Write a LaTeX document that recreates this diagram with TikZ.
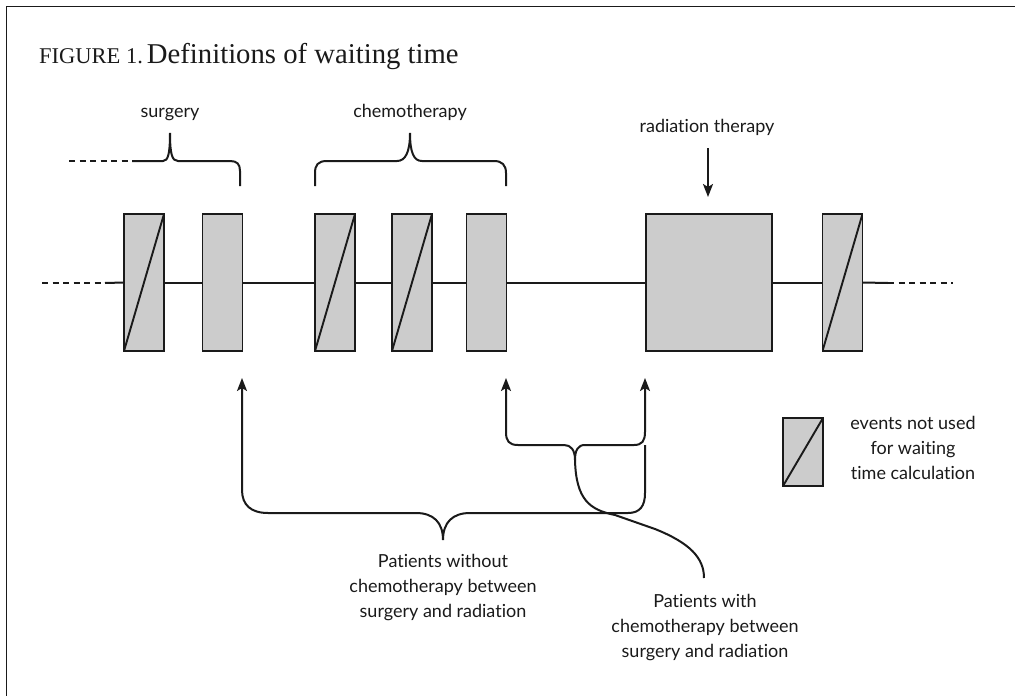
\documentclass[tikz,border=0pt]{standalone}
\usepackage{fontspec}
\newfontfamily\labfont{Lato}[Ligatures=NoCommon]
\newfontfamily\titlefont{Liberation Serif}
\usetikzlibrary{arrows.meta}
\definecolor{boxgray}{HTML}{CCCCCC}
\definecolor{ink}{HTML}{1A1A1A}
\begin{document}
\begin{tikzpicture}[x=1pt,y=-1pt,
  ev/.style={draw=ink, fill=boxgray, line width=1.9pt, minimum width=40pt, minimum height=137pt, inner sep=0pt, outer sep=0pt},
  unused/.style={ev, path picture={\draw[ink, line width=1.9pt] (path picture bounding box.south west) -- (path picture bounding box.north east);}},
  conn/.style={draw=ink, line width=2pt},
  dashline/.style={draw=ink, line width=2pt, dash pattern=on 6pt off 4.5pt},
  arr/.style={conn, -{Stealth[length=13pt,width=10pt,inset=3pt]}},
  darr/.style={conn, {Stealth[length=13pt,width=10pt,inset=3pt]}-{Stealth[length=13pt,width=10pt,inset=3pt]}},
  lab/.style={font=\labfont\fontsize{18}{25}\selectfont, text=ink, inner sep=0pt, align=center},
]
\useasboundingbox (0,0) rectangle (1015,696);
\fill[white] (0,0) rectangle (1015,696);
% frame
\draw[ink, line width=1pt] (6,696) -- (6,6) -- (1015,6);
% title
\node[anchor=base west, inner sep=0pt, text=ink, font=\titlefont] (title) at (39,63) {{\fontsize{22.5}{26}\selectfont FIGURE 1.}\hspace{4pt}{\fontsize{28.7}{32}\selectfont Definitions of waiting time}};
% events
\node[unused] (b1) at (144,282.5) {};
\node[ev] (b2) at (222.5,282.5) {};
\node[unused] (b3) at (335,282.5) {};
\node[unused] (b4) at (412,282.5) {};
\node[ev] (b5) at (486.5,282.5) {};
\node[ev, minimum width=126pt] (b6) at (709,282.5) {};
\node[unused] (b7) at (842.5,282.5) {};
% timeline
\coordinate (tlA) at (42,283);
\coordinate (tlB) at (105,283);
\coordinate (tlC) at (888,283);
\coordinate (tlD) at (953,283);
\draw[dashline] (tlA) -- (tlB);
\draw[conn] (tlB) -- (b1.west);
\draw[conn] (b1.east) -- (b2.west);
\draw[conn] (b2.east) -- (b3.west);
\draw[conn] (b3.east) -- (b4.west);
\draw[conn] (b4.east) -- (b5.west);
\draw[conn] (b5.east) -- (b6.west);
\draw[conn] (b6.east) -- (b7.west);
\draw[conn] (b7.east) -- (tlC);
\draw[dashline] (tlC) -- (tlD);
% top labels
\node[lab, anchor=base] (ls) at (170,117) {surgery};
\node[lab, anchor=base] (lc) at (410,117) {chemotherapy};
\node[lab, anchor=base] (lr) at (707,132) {radiation therapy};
% surgery brace
\coordinate (sA) at (69,161);
\coordinate (sB) at (132,161);
\draw[dashline] (sA) -- (sB);
\draw[conn] (sB) -- (163,161) .. controls (168,161) and (170,154) .. (170,133)
  .. controls (170,154) and (172,161) .. (178,161) -- (230,161)
  .. controls (237,161) and (240,164) .. (240,171) -- (240,186);
% chemotherapy brace
\draw[conn] (315,186) -- (315,173) .. controls (315,165) and (318,161) .. (327,161) -- (397,161)
  .. controls (405,161) and (410,153) .. (410,133)
  .. controls (410,153) and (414,161) .. (422,161) -- (494,161)
  .. controls (502,161) and (506,165) .. (506,173) -- (506,186);
% radiation arrow
\coordinate (ra) at (708,148);
\coordinate (rb) at (708,197);
\draw[arr] (ra) -- (rb);
% big brace: patients without chemotherapy
\draw[arr] (645,445) -- (645,493) .. controls (645,506) and (640,513) .. (628,513) -- (470,513)
  .. controls (453,513) and (443,522) .. (443,540)
  .. controls (443,522) and (433,513) .. (416,513) -- (268,513)
  .. controls (251,513) and (242,505) .. (242,490) -- (242,378);
% small brace: patients with chemotherapy
\draw[darr] (506,378) -- (506,432) .. controls (506,441) and (509,445) .. (518,445) -- (564,445)
  .. controls (571,445) and (575,450) .. (575,460)
  .. controls (575,450) and (578,445) .. (585,445) -- (634,445)
  .. controls (642,445) and (645,441) .. (645,432) -- (645,378);
\draw[conn] (575,460) .. controls (576,500) and (590,510) .. (615,515) -- (655,529)
  .. controls (690,543) and (704,558) .. (704,578);
% bottom labels (base anchor = baseline of the last line)
\node[lab, anchor=base] (pw) at (443,617) {Patients without\\chemotherapy between\\surgery and radiation};
\node[lab, anchor=base] (pc) at (705,657) {Patients with\\chemotherapy between\\surgery and radiation};
% legend
\node[unused, minimum height=68pt] (lg) at (803,452) {};
\node[lab, anchor=base] (lgt) at (913,479.5) {events not used\\for waiting\\time calculation};
\end{tikzpicture}
\end{document}
